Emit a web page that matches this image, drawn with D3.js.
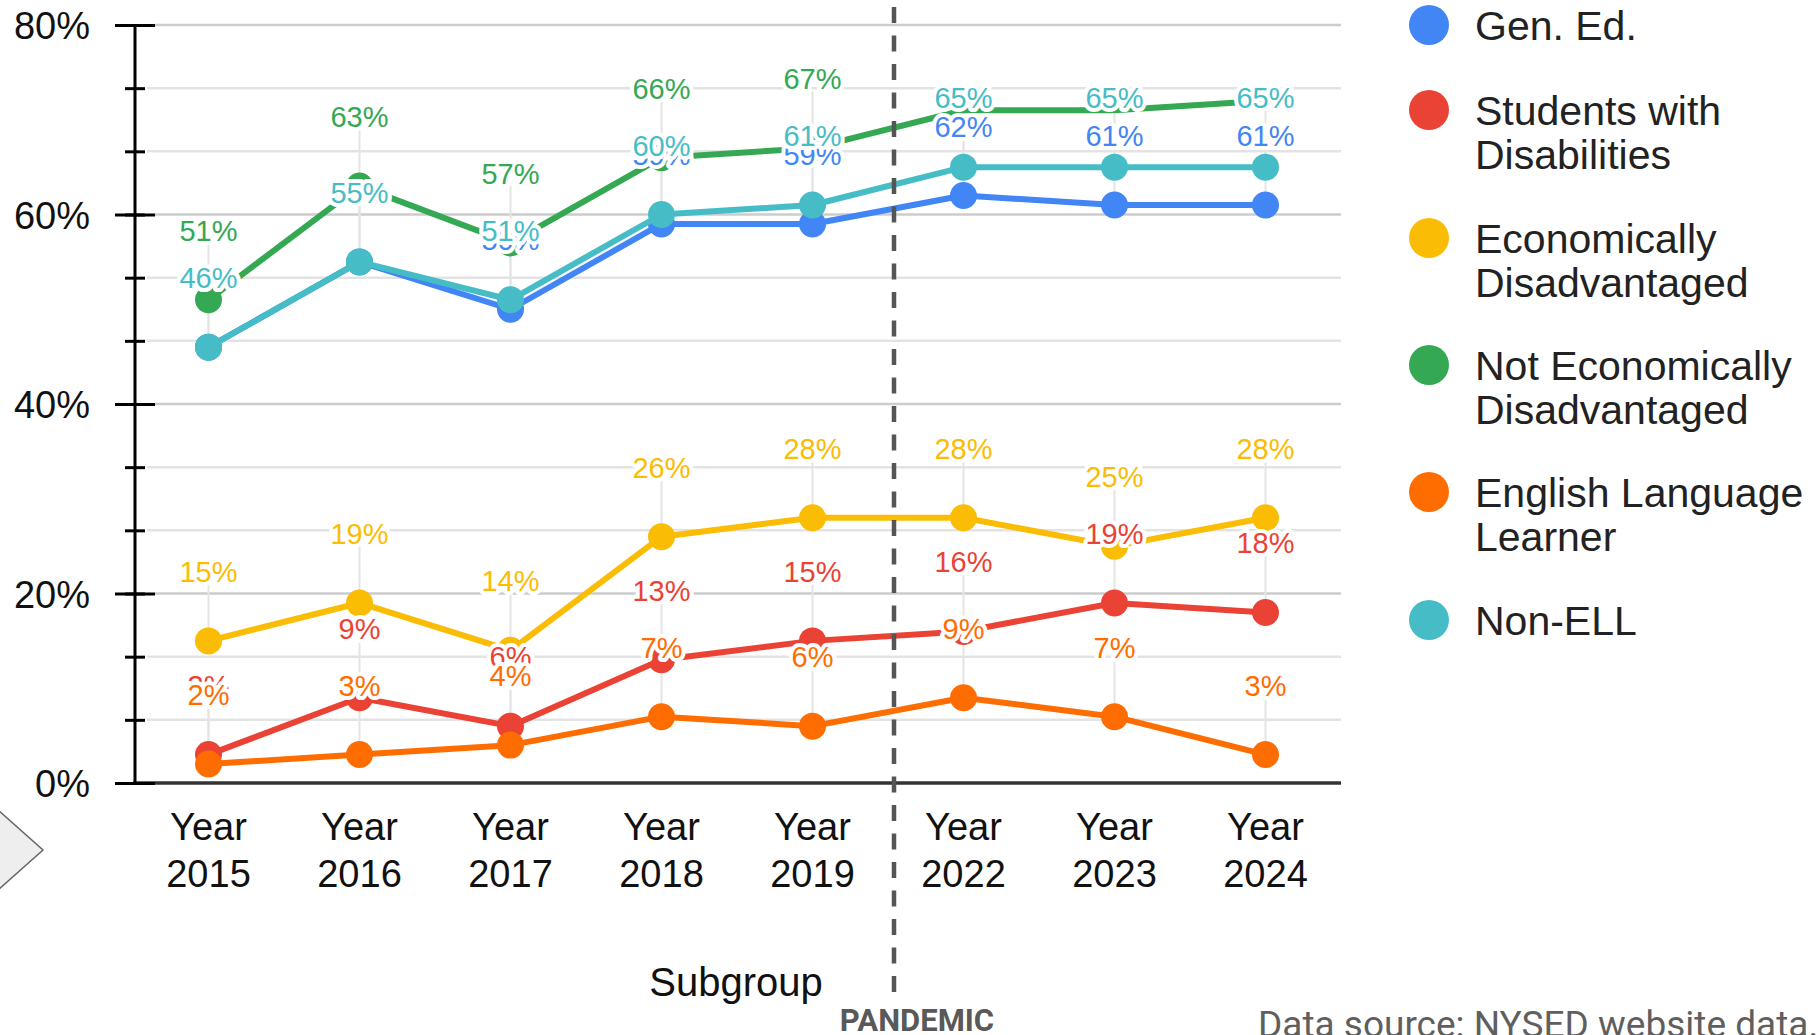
<!DOCTYPE html>
<html>
<head>
<meta charset="utf-8">
<script src="https://cdn.jsdelivr.net/npm/d3@7"></script>
<style>
  html, body { margin: 0; padding: 0; background: #ffffff; }
  svg { display: block; }
</style>
</head>
<body>
<svg id="chart" width="1817" height="1035"></svg>
<script>
// ---------------- data ----------------
const categories = ["2015", "2016", "2017", "2018", "2019", "2022", "2023", "2024"];
const seriesNames = ["Gen. Ed.", "Students with Disabilities", "Economically Disadvantaged",
                     "Not Economically Disadvantaged", "English Language Learner", "Non-ELL"];
const legendLines = [["Gen. Ed."], ["Students with", "Disabilities"], ["Economically", "Disadvantaged"],
                     ["Not Economically", "Disadvantaged"], ["English Language", "Learner"], ["Non-ELL"]];
const genEd       = [46, 55, 50, 59, 59, 62, 61, 61];
const swd         = [3, 9, 6, 13, 15, 16, 19, 18];
const econDis     = [15, 19, 14, 26, 28, 28, 25, 28];
const notEconDis  = [51, 63, 57, 66, 67, 71, 71, 72];
const ell         = [2, 3, 4, 7, 6, 9, 7, 3];
const nonEll      = [46, 55, 51, 60, 61, 65, 65, 65];
const seriesValues = [genEd, swd, econDis, notEconDis, ell, nonEll];
// which points carry a visible marker + label (the reference shows none for the last three green points)
const allShown       = [true, true, true, true, true, true, true, true];
const notEconShown   = [true, true, true, true, true, false, false, false];
const seriesShown  = [allShown, allShown, allShown, notEconShown, allShown, allShown];
const colors = ["#4285F4", "#EA4335", "#FBBC04", "#34A853", "#FF6D01", "#46BDC6"];
const yMajorTicks = [0, 20, 40, 60, 80];
const xTitle = "Subgroup";
const pandemicLabel = "PANDEMIC";
const sourceNote = "Data source: NYSED website data.";

// ---------------- layout ----------------
const svg = d3.select("#chart");
const plot = { left: 133, right: 1341, top: 25, bottom: 783 };
const x = d3.scaleBand().domain(categories).range([plot.left, plot.right]);
const cx = c => x(c) + x.bandwidth() / 2;
const y = d3.scaleLinear().domain([0, 80]).range([plot.bottom, plot.top]);
const yMinorTicks = d3.range(0, 80.001, 20 / 3);

// gridlines (minor then major)
svg.append("g").selectAll("line").data(yMinorTicks.filter(v => !yMajorTicks.some(m => Math.abs(m - v) < 0.01)))
  .join("line")
  .attr("x1", 147).attr("x2", plot.right)
  .attr("y1", d => y(d)).attr("y2", d => y(d))
  .attr("stroke", "#e3e3e3").attr("stroke-width", 2.5);
svg.append("g").selectAll("line").data(yMajorTicks.filter(v => v > 0))
  .join("line")
  .attr("x1", 155).attr("x2", plot.right)
  .attr("y1", d => y(d)).attr("y2", d => y(d))
  .attr("stroke", "#cccccc").attr("stroke-width", 2.5);

// annotation stems
const stems = svg.append("g");
seriesValues.forEach((vals, s) => {
  stems.selectAll(null).data(vals.map((v, i) => ({ v, i })).filter(d => seriesShown[s][d.i])).join("line")
    .attr("x1", d => cx(categories[d.i])).attr("x2", d => cx(categories[d.i]))
    .attr("y1", d => y(d.v)).attr("y2", d => y(d.v) - 57)
    .attr("stroke", "#e4e4e4").attr("stroke-width", 2);
});

// x baseline
svg.append("line")
  .attr("x1", plot.left).attr("x2", plot.right)
  .attr("y1", y(0)).attr("y2", y(0))
  .attr("stroke", "#333333").attr("stroke-width", 3.5);

// y axis: major ticks + labels
const yAxisMajor = d3.axisLeft(y).tickValues(yMajorTicks).tickSize(40).tickPadding(25)
  .tickFormat(d => d + "%");
const gMaj = svg.append("g").attr("transform", "translate(155,0)").call(yAxisMajor);
gMaj.select(".domain").remove();
gMaj.selectAll(".tick line").attr("stroke", "#000").attr("stroke-width", 3);
gMaj.selectAll(".tick text").attr("font-family", "'Liberation Sans', Arial, sans-serif")
  .attr("font-size", 38).attr("fill", "#111").attr("dy", "0.36em");

// y axis: minor ticks
const yAxisMinor = d3.axisLeft(y).tickValues(yMinorTicks).tickSize(20).tickFormat("");
const gMin = svg.append("g").attr("transform", "translate(145,0)").call(yAxisMinor);
gMin.select(".domain").remove();
gMin.selectAll(".tick line").attr("stroke", "#000").attr("stroke-width", 3);

// y axis line
svg.append("line")
  .attr("x1", 135).attr("x2", 135).attr("y1", y(80) - 1).attr("y2", y(0) + 1)
  .attr("stroke", "#000").attr("stroke-width", 3);

// x axis labels (two lines)
const xAxis = d3.axisBottom(x).tickSize(0).tickFormat("");
const gx = svg.append("g").attr("transform", `translate(0,${y(0)})`).call(xAxis);
gx.select(".domain").remove();
gx.selectAll(".tick").each(function(d) {
  const t = d3.select(this).append("text")
    .attr("font-family", "'Liberation Sans', Arial, sans-serif")
    .attr("font-size", 38).attr("fill", "#111").attr("text-anchor", "middle");
  t.append("tspan").attr("x", 0).attr("y", 57).text("Year");
  t.append("tspan").attr("x", 0).attr("y", 104).text(d);
});

// x title
svg.append("text").attr("x", 736).attr("y", 996)
  .attr("text-anchor", "middle")
  .attr("font-family", "'Liberation Sans', Arial, sans-serif")
  .attr("font-size", 40).attr("fill", "#111").text(xTitle);

// lines and points
const lineGen = d3.line().x((d, i) => cx(categories[i])).y(d => y(d));
seriesValues.forEach((vals, s) => {
  const g = svg.append("g");
  g.append("path").datum(vals).attr("d", lineGen)
    .attr("fill", "none").attr("stroke", colors[s]).attr("stroke-width", 6)
    .attr("stroke-linejoin", "round");
  g.selectAll("circle").data(vals.map((v, i) => ({ v, i })).filter(d => seriesShown[s][d.i])).join("circle")
    .attr("cx", d => cx(categories[d.i])).attr("cy", d => y(d.v))
    .attr("r", 13.5).attr("fill", colors[s]);
});

// data labels
seriesValues.forEach((vals, s) => {
  svg.append("g").selectAll("text").data(vals.map((v, i) => ({ v, i })).filter(d => seriesShown[s][d.i])).join("text")
    .attr("x", d => cx(categories[d.i])).attr("y", d => y(d.v) - 59)
    .attr("text-anchor", "middle")
    .attr("font-family", "'Liberation Sans', Arial, sans-serif")
    .attr("font-size", 29)
    .attr("fill", colors[s])
    .attr("stroke", "#ffffff").attr("stroke-width", 8).attr("stroke-linejoin", "round")
    .attr("paint-order", "stroke")
    .text(d => Math.round(d.v) + "%");
});

// pandemic dashed line
const xDash = (cx("2019") + cx("2022")) / 2 + 6;
svg.append("line")
  .attr("x1", xDash).attr("x2", xDash).attr("y1", 992).attr("y2", 0)
  .attr("stroke", "#555555").attr("stroke-width", 4.5)
  .attr("stroke-dasharray", "16 12.5");
svg.append("text").attr("x", 917).attr("y", 1031)
  .attr("text-anchor", "middle")
  .attr("font-family", "Roboto, sans-serif").attr("font-weight", 700)
  .attr("font-size", 31).attr("fill", "#595959").text(pandemicLabel);

// legend
const legend = svg.append("g");
const legendY = [25, 110, 238, 365, 492, 620];
legendLines.forEach((lines, i) => {
  legend.append("circle").attr("cx", 1429).attr("cy", legendY[i]).attr("r", 20).attr("fill", colors[i]);
  const t = legend.append("text")
    .attr("font-family", "'Liberation Sans', Arial, sans-serif")
    .attr("font-size", 41).attr("fill", "#222");
  lines.forEach((ln, k) => {
    t.append("tspan").attr("x", 1475).attr("y", legendY[i] + k * 44).attr("dy", "0.36em").text(ln);
  });
});

// source note
svg.append("text").attr("x", 1258).attr("y", 1037)
  .attr("font-family", "Roboto, sans-serif").attr("font-size", 37)
  .attr("fill", "#5f5f5f").text(sourceNote);

// decorative nav arrow at left
svg.append("path")
  .attr("d", d3.line()([[-2, 810], [43, 850], [-2, 890]]))
  .attr("fill", "#eeeeee").attr("stroke", "#666666").attr("stroke-width", 1.5);
</script>
</body>
</html>
